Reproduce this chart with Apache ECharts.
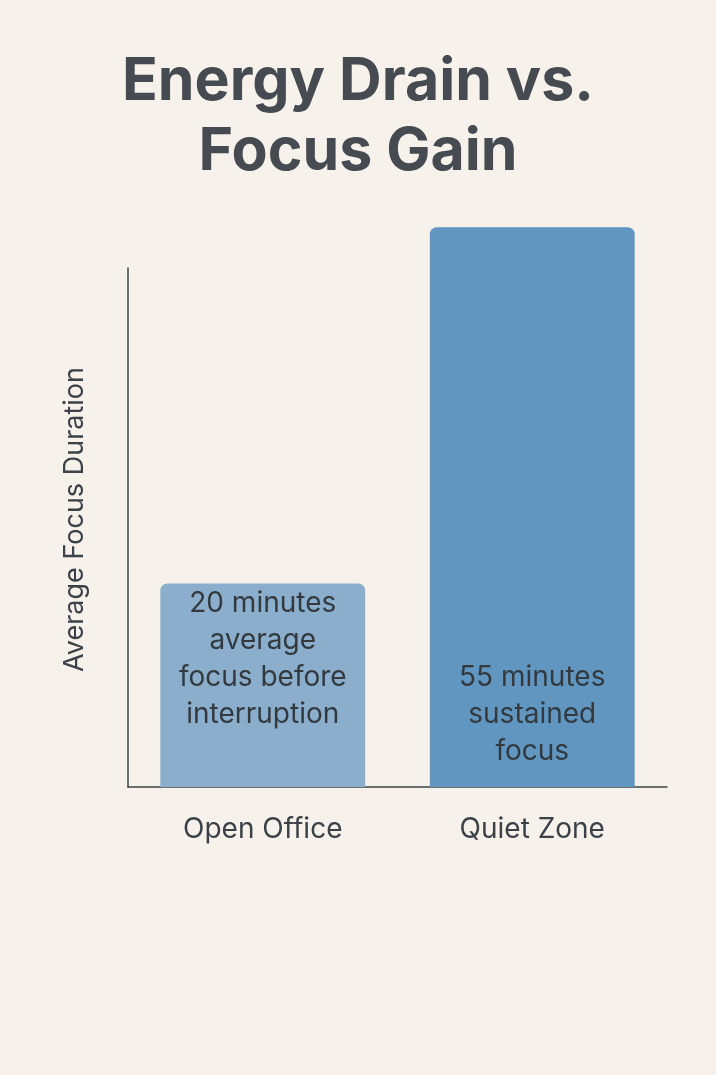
<!DOCTYPE html>
<html>
<head>
<meta charset="utf-8">
<style>
  html, body { margin: 0; padding: 0; background: #f6f1eb; }
  #chart { width: 716px; height: 1075px; }
</style>
<script src="https://cdn.jsdelivr.net/npm/echarts@6/dist/echarts.min.js"></script>
</head>
<body>
<div id="chart"></div>
<script>
// Average uninterrupted focus time per workspace type (minutes)
const categories = ['Open Office', 'Quiet Zone'];
const focusMinutes = [20, 55];
const barLabels = [
  '20 minutes\naverage\nfocus before\ninterruption',
  '55 minutes\nsustained\nfocus'
];
const barColors = ['#8aaecb', '#6096bf'];
const labelDistances = [54, 17];

const chart = echarts.init(document.getElementById('chart'), null, { renderer: 'canvas' });

const option = {
  backgroundColor: '#f6f1eb',
  textStyle: { fontFamily: 'Inter, "Open Sans", sans-serif' },
  title: {
    text: 'Energy Drain vs.\nFocus Gain',
    left: 'center',
    top: 42,
    textStyle: {
      fontFamily: 'Inter, "Open Sans", sans-serif',
      fontSize: 59,
      fontWeight: 700,
      lineHeight: 70,
      color: '#454b50'
    }
  },
  grid: { left: 128, right: 49, top: 268, bottom: 288, containLabel: false },
  xAxis: {
    type: 'category',
    data: categories,
    axisLine: { show: true, lineStyle: { color: '#3d4448', width: 1.5 } },
    axisTick: { show: false },
    axisLabel: { fontSize: 28, color: '#3b4146', margin: 29 }
  },
  yAxis: {
    type: 'value',
    min: 0,
    max: 51,
    name: 'Average Focus Duration',
    nameLocation: 'middle',
    nameGap: 40,
    nameTextStyle: { fontSize: 27, color: '#3b4146', padding: [0, 0, 0, 16] },
    axisLine: { show: true, lineStyle: { color: '#3d4448', width: 1.5 } },
    axisTick: { show: false },
    axisLabel: { show: false },
    splitLine: { show: false }
  },
  series: [{
    type: 'bar',
    clip: false,
    barCategoryGap: '24%',
    data: focusMinutes.map((v, i) => ({
      value: v,
      itemStyle: { color: barColors[i], borderRadius: [7, 7, 0, 0] },
      label: {
        show: true,
        position: 'insideBottom',
        distance: labelDistances[i],
        formatter: barLabels[i],
        fontSize: 28,
        lineHeight: 37,
        color: '#323a40',
        align: 'center'
      }
    }))
  }]
};

chart.setOption(option);
</script>
</body>
</html>
